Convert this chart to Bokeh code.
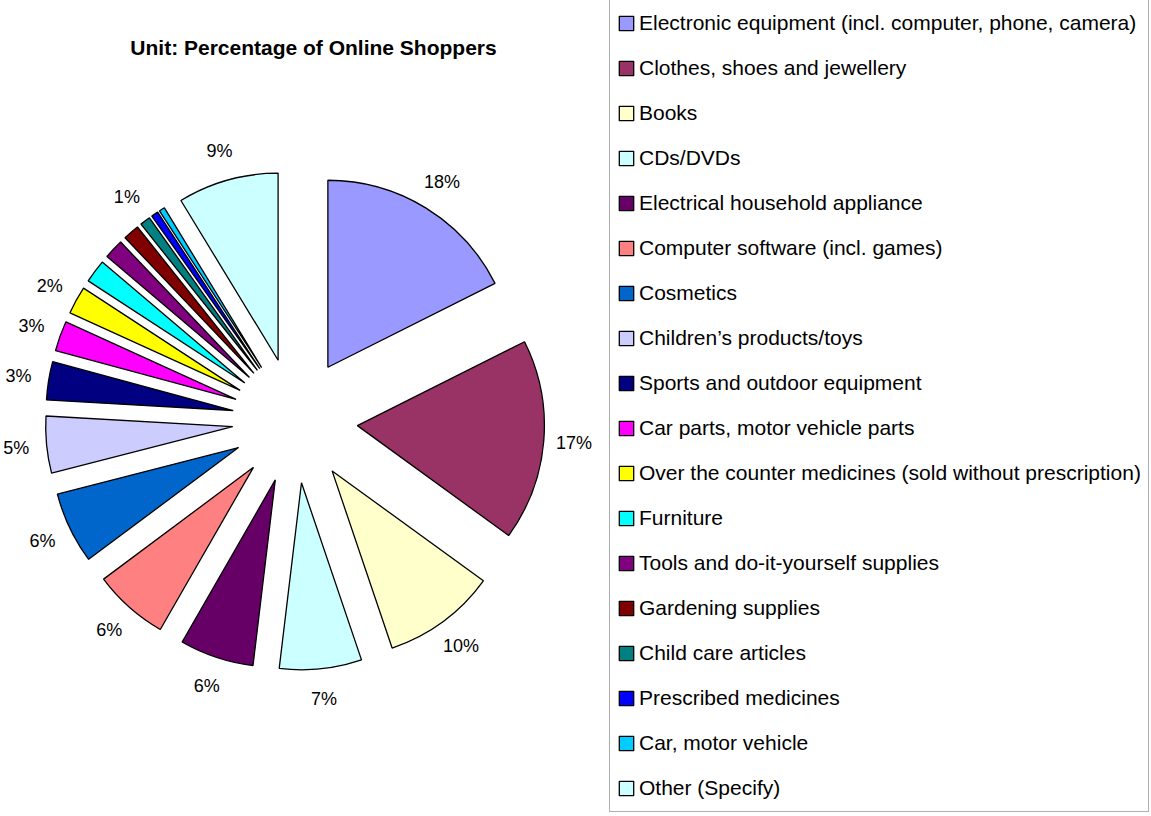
import math
from bokeh.plotting import figure
from bokeh.models import ColumnDataSource, Range1d, Legend, LegendItem
from bokeh.core.properties import value
from bokeh.embed import file_html
from bokeh.resources import INLINE

# ---- data ----
categories = [
    "Electronic equipment (incl. computer, phone, camera)",
    "Clothes, shoes and jewellery",
    "Books",
    "CDs/DVDs",
    "Electrical household appliance",
    "Computer software (incl. games)",
    "Cosmetics",
    "Children\u2019s products/toys",
    "Sports and outdoor equipment",
    "Car parts, motor vehicle parts",
    "Over the counter medicines (sold without prescription)",
    "Furniture",
    "Tools and do-it-yourself supplies",
    "Gardening supplies",
    "Child care articles",
    "Prescribed medicines",
    "Car, motor vehicle",
    "Other (Specify)",
]
shares = [17.6, 17.4, 9.8, 7.1, 6.4, 6.5, 6.2, 4.9, 3.3, 2.6, 2.4, 2.0, 1.7, 1.4, 0.9, 0.6, 0.5, 8.7]
colors = ["#9999FF", "#993366", "#FFFFCC", "#CCFFFF", "#660066", "#FF8080",
          "#0066CC", "#CCCCFF", "#000080", "#FF00FF", "#FFFF00", "#00FFFF",
          "#800080", "#800000", "#008080", "#0000FF", "#00CCFF", "#CCFFFF"]
labelled = [True, True, True, True, True, True, True, True, True, True,
            True, False, False, False, True, False, False, True]
title_text = "Unit: Percentage of Online Shoppers"

# ---- geometry (pixels) ----
W, H = 1151, 816
CX, CY = 294.5, H - 420.0
R = 187.0
EXPLODE = 62.6
LABEL_R = 280.0

total = sum(shares)
xs, ys, starts, ends, lx, ly, ltxt = [], [], [], [], [], [], []
cum = 0.0
for v, show in zip(shares, labelled):
    t0 = cum / total * 2 * math.pi
    cum += v
    t1 = cum / total * 2 * math.pi
    tm = (t0 + t1) / 2
    xs.append(CX + EXPLODE * math.sin(tm))
    ys.append(CY + EXPLODE * math.cos(tm))
    starts.append(math.pi / 2 - t0)
    ends.append(math.pi / 2 - t1)
    if show:
        lx.append(CX + LABEL_R * math.sin(tm))
        ly.append(CY + LABEL_R * math.cos(tm))
        ltxt.append(f"{round(v):d}%")

src = ColumnDataSource(dict(x=xs, y=ys, start=starts, end=ends,
                            color=colors, name=categories))

p = figure(width=W, height=H, output_backend="svg", toolbar_location=None,
           x_range=Range1d(0, W), y_range=Range1d(0, H),
           x_axis_location=None, y_axis_location=None, min_border=0)
p.min_border_left = p.min_border_right = p.min_border_top = p.min_border_bottom = 0
p.grid.visible = False
p.outline_line_color = None
p.background_fill_color = "white"
p.border_fill_color = "white"

wr = p.wedge(x="x", y="y", radius=R, start_angle="start", end_angle="end",
             direction="clock", fill_color="color", line_color="black",
             line_width=1.3, source=src)

p.text(x=lx, y=ly, text=ltxt, text_font=value("Liberation Sans"),
       text_font_size="18px", text_align="center", text_baseline="middle",
       text_color="black")

p.text(x=[313], y=[H - 47], text=[title_text], text_font=value("Liberation Sans"),
       text_font_size="21px", text_font_style="bold", text_align="center",
       text_baseline="middle", text_color="black")

items = [LegendItem(label=c, renderers=[wr], index=i) for i, c in enumerate(categories)]
legend = Legend(items=items, location=(609, 4), orientation="vertical",
                label_text_font="Liberation Sans", label_text_font_size="21px",
                label_text_color="black", glyph_width=18, glyph_height=18,
                label_standoff=4, padding=7, spacing=13, margin=0,
                label_height=32,
                border_line_color="#606060", border_line_width=1.5,
                background_fill_color="white", background_fill_alpha=1.0)
p.add_layout(legend, "center")

open("out.html", "w").write(file_html(p, INLINE))
